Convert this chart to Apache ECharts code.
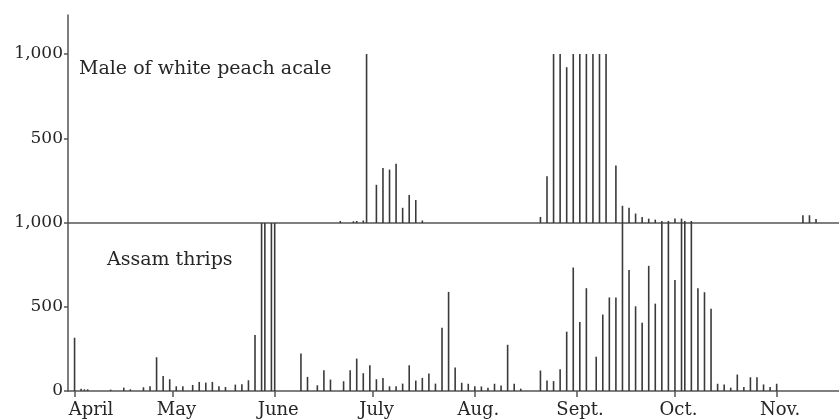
<!DOCTYPE html>
<html>
<head>
<meta charset="utf-8">
<script src="https://cdn.jsdelivr.net/npm/echarts@6/dist/echarts.min.js"></script>
<style>
html,body{margin:0;padding:0;background:#fff;}
#chart{width:839px;height:419px;}
</style>
</head>
<body>
<div id="chart"></div>
<script>
// Day offsets are counted from April 1 (day 0).
const monthNames = ['April', 'May', 'June', 'July', 'Aug.', 'Sept.', 'Oct.', 'Nov.'];
const monthStartDays = [0, 30, 61, 91, 122, 153, 183, 214];

// Male of white peach scale (top panel)
const scaleDays = [81, 85, 86, 88, 89, 92, 94, 96, 98, 100, 102, 104, 106,
  142, 144, 146, 148, 150, 152, 154, 156, 158, 160, 162,
  165, 167, 169, 171, 173, 175, 177, 179, 181, 183, 185, 186, 188,
  222, 224, 226];
const scaleCounts = [12, 10, 12, 15, 1000, 226, 326, 316, 350, 90, 166, 136, 15,
  36, 276, 1000, 1000, 922, 1000, 1000, 1000, 1000, 1000, 1000,
  340, 102, 90, 56, 36, 26, 20, 12, 12, 26, 26, 12, 12,
  46, 46, 24];

// Assam thrips (bottom panel)
const thripsDays = [0, 2, 3, 4, 11, 15, 17, 21, 23, 25, 27, 29, 31, 33, 36, 38, 40, 42, 44, 46, 49, 51, 53, 55, 57, 58, 60, 61,
  69, 71, 74, 76, 78, 82, 84, 86, 88, 90, 92, 94, 96, 98, 100, 102, 104, 106, 108, 110, 112, 114, 116, 118, 120, 122, 124, 126, 128, 130, 132, 134, 136,
  142, 144, 146, 148, 150, 152, 154, 156, 159, 161, 163, 165, 167, 169, 171, 173, 175, 177, 179, 181, 183, 185, 186, 188, 190, 192, 194, 196, 198, 200, 202, 204, 206, 208, 210, 212, 214];
const thripsCounts = [317, 14, 10, 10, 8, 20, 10, 22, 28, 201, 90, 70, 28, 28, 36, 54, 50, 54, 28, 24, 38, 40, 64, 333, 1000, 1000, 1000, 1000,
  223, 84, 34, 124, 68, 58, 124, 193, 106, 153, 70, 78, 28, 28, 44, 153, 62, 78, 104, 44, 376, 590, 140, 49, 43, 29, 27, 20, 43, 33, 275, 43, 14,
  122, 63, 59, 129, 353, 735, 410, 612, 204, 455, 557, 557, 1000, 720, 504, 406, 745, 520, 1000, 1000, 661, 1000, 1000, 1000, 612, 588, 490, 43, 39, 20, 98, 24, 82, 82, 39, 24, 43];

const topTickValues = [500, 1000];
const bottomTickValues = [0, 500, 1000];

const SERIF = '"DejaVu Serif", "Liberation Serif", serif';
const INK = '#262626';
const LINE = '#555';

function fmtCount(v) { return v === 1000 ? '1,000' : String(v); }

const chart = echarts.init(document.getElementById('chart'), null, {renderer: 'canvas'});

const yCommon = {
  type: 'value',
  min: 0,
  splitLine: {show: false},
  axisLine: {show: true, onZero: false, lineStyle: {color: LINE, width: 1.5}},
  axisTick: {show: true, length: 4, lineStyle: {color: LINE, width: 1.5}},
  axisLabel: {color: INK, fontFamily: SERIF, fontSize: 17, margin: 5, formatter: fmtCount}
};

const option = {
  animation: false,
  backgroundColor: '#fff',
  grid: [
    {left: 68, right: 0, top: 15, height: 208},
    {left: 68, right: 0, top: 223, height: 168}
  ],
  xAxis: [
    {
      type: 'value', gridIndex: 0, min: -2, max: 233,
      splitLine: {show: false},
      axisLine: {show: true, onZero: false, lineStyle: {color: LINE, width: 1.5}},
      axisTick: {show: false},
      axisLabel: {show: false}
    },
    {
      type: 'value', gridIndex: 1, min: -2, max: 233,
      splitLine: {show: false},
      axisLine: {show: true, onZero: false, lineStyle: {color: LINE, width: 1.5}},
      axisTick: {show: true, length: 6, customValues: monthStartDays, lineStyle: {color: LINE, width: 1.5}},
      axisLabel: {
        show: true, customValues: monthStartDays, margin: 10,
        color: INK, fontFamily: SERIF, fontSize: 18, padding: [0, 0, 0, 7],
        formatter: function (v) {
          const i = monthStartDays.indexOf(v);
          if (i < 0) return '';
          return i === 0 ? '{a|' + monthNames[i] + '}' : monthNames[i];
        },
        rich: {a: {color: INK, fontFamily: SERIF, fontSize: 18, padding: [0, 0, 0, 26]}}
      }
    }
  ],
  yAxis: [
    Object.assign({}, yCommon, {
      gridIndex: 0, max: 1231,
      axisTick: Object.assign({}, yCommon.axisTick, {customValues: topTickValues}),
      axisLabel: Object.assign({}, yCommon.axisLabel, {customValues: topTickValues})
    }),
    Object.assign({}, yCommon, {
      gridIndex: 1, max: 1000,
      axisTick: Object.assign({}, yCommon.axisTick, {customValues: bottomTickValues}),
      axisLabel: Object.assign({}, yCommon.axisLabel, {customValues: bottomTickValues})
    })
  ],
  series: [
    {
      name: 'Male of white peach acale', type: 'bar', xAxisIndex: 0, yAxisIndex: 0,
      barWidth: 1.6, itemStyle: {color: '#3a3a3a'},
      data: scaleDays.map((d, i) => [d, scaleCounts[i]])
    },
    {
      name: 'Assam thrips', type: 'bar', xAxisIndex: 1, yAxisIndex: 1,
      barWidth: 1.6, itemStyle: {color: '#3a3a3a'},
      data: thripsDays.map((d, i) => [d, thripsCounts[i]])
    }
  ],
  graphic: [
    {type: 'text', x: 79, y: 69, style: {text: 'Male of white peach acale', fontFamily: SERIF, fontSize: 19, fill: INK, verticalAlign: 'middle'}},
    {type: 'text', x: 107, y: 260, style: {text: 'Assam thrips', fontFamily: SERIF, fontSize: 19, fill: INK, verticalAlign: 'middle'}}
  ]
};

chart.setOption(option);
</script>
</body>
</html>
